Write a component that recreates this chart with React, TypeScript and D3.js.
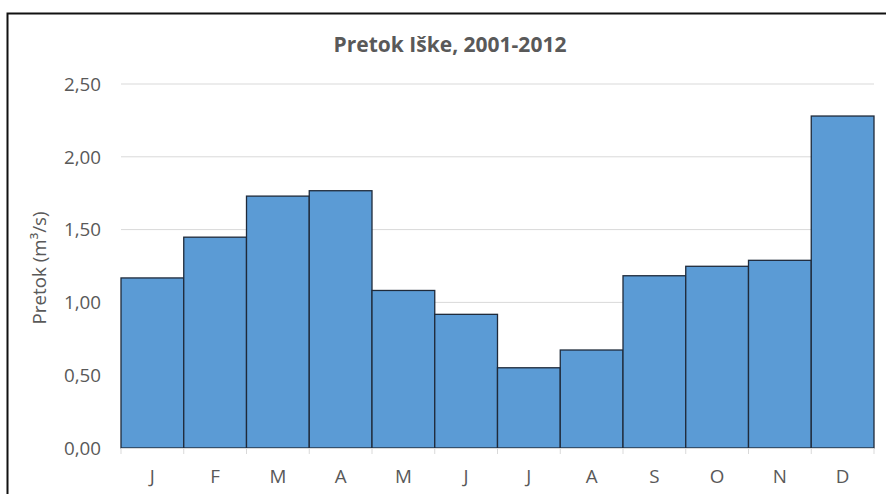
import React from "react";
import * as d3 from "d3";

const months = ["J", "F", "M", "A", "M", "J", "J", "A", "S", "O", "N", "D"];
const flow = [1.168, 1.448, 1.73, 1.767, 1.082, 0.918, 0.551, 0.673, 1.183, 1.248, 1.289, 2.28];
const yTicks = [0, 0.5, 1, 1.5, 2, 2.5];
const title = "Pretok Iške, 2001-2012";
const yLabel = "Pretok (m³/s)";

export default function App() {
  const W = 886, H = 494;
  const left = 121, right = 874, top = 84, bottom = 448;
  const x = d3.scaleBand<number>().domain(months.map((_, i) => i)).range([left, right]).padding(0);
  const y = d3.scaleLinear().domain([0, 2.5]).range([bottom, top]);
  const fmt = (v: number) => d3.format(".2f")(v).replace(".", ",");
  const font = "'Open Sans', sans-serif";
  const grey = "#595959";
  const fs = 18.8;
  return (
    <svg width={W} height={H} style={{ position: "absolute", left: 0, top: 0, background: "#fff" }}>
      <rect x={0} y={0} width={W} height={H} fill="#fff" />
      <rect x={7.5} y={13.5} width={W + 10} height={H + 10} fill="none" stroke="#111" strokeWidth={2} />
      <text x={450} y={52} textAnchor="middle" fontFamily={font} fontSize={21} fontWeight="bold" fill={grey}>{title}</text>
      {yTicks.map((t) => (
        <g key={t}>
          {t > 0 && <line x1={left} x2={right} y1={y(t)} y2={y(t)} stroke="#d9d9d9" strokeWidth={1} />}
          <text x={101} y={y(t)} dy="0.36em" textAnchor="end" fontFamily={font} fontSize={fs} fill={grey}>{fmt(t)}</text>
        </g>
      ))}
      <text transform={`translate(46,268) rotate(-90)`} textAnchor="middle" fontFamily={font} fontSize={fs} fill={grey}>{yLabel}</text>
      {flow.map((v, i) => (
        <rect key={i} x={x(i)!} y={y(v)} width={x.bandwidth()} height={bottom - y(v)} fill="#5b9bd5" stroke="#1f2a3a" strokeWidth={1.3} />
      ))}
      <line x1={left} x2={right} y1={bottom + 0.5} y2={bottom + 0.5} stroke="#d9d9d9" strokeWidth={1} />
      {d3.range(13).map((i) => {
        const xx = left + i * x.bandwidth();
        return <line key={i} x1={xx} x2={xx} y1={bottom} y2={bottom + 6} stroke="#d9d9d9" strokeWidth={1} />;
      })}
      {months.map((m, i) => (
        <text key={i} x={x(i)! + x.bandwidth() / 2} y={483} textAnchor="middle" fontFamily={font} fontSize={fs} fill={grey}>{m}</text>
      ))}
    </svg>
  );
}
